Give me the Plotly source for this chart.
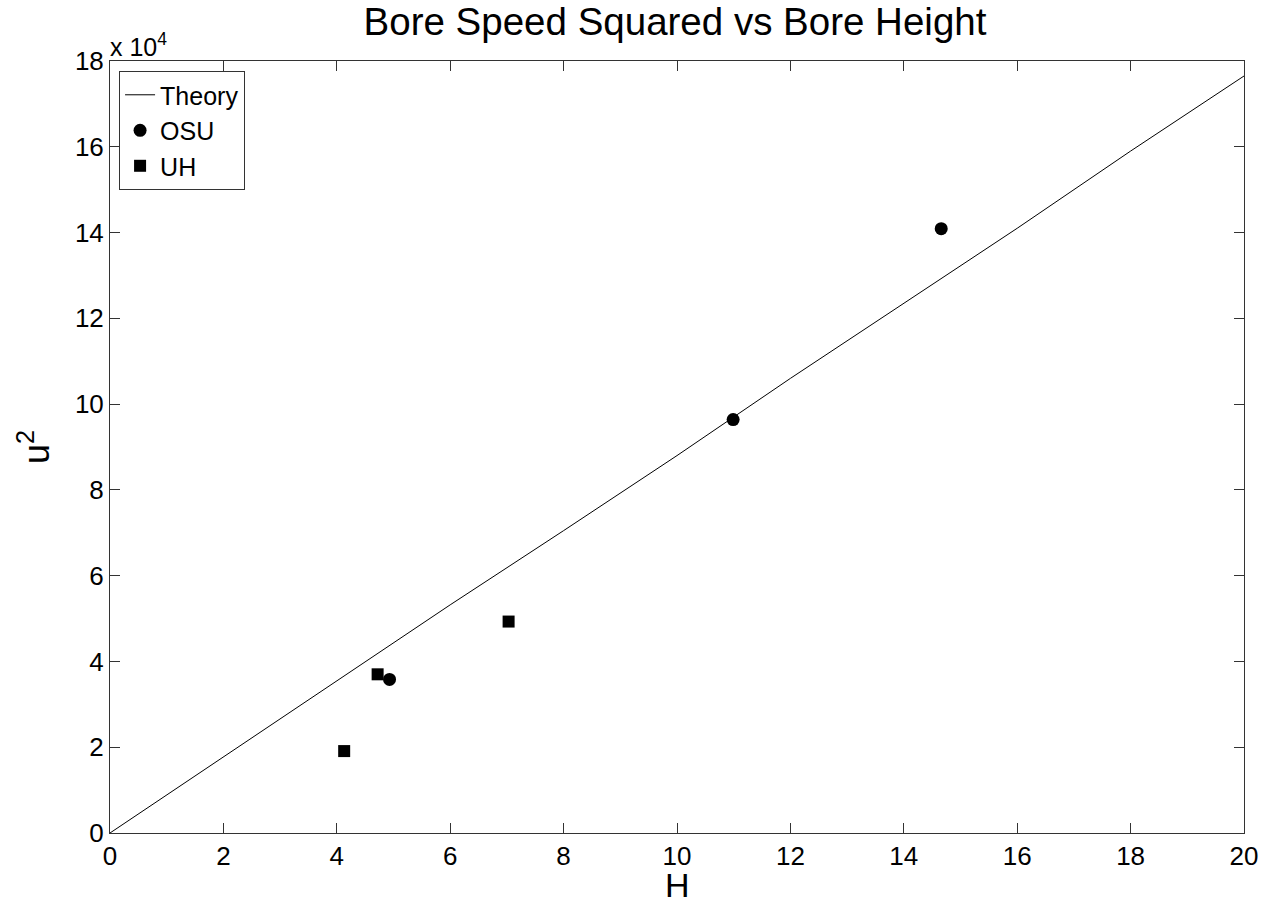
import plotly.graph_objects as go

theory_H = [0, 2, 4, 6, 8, 10, 12, 14, 16, 18, 20]
theory_u2 = [0, 17700, 35500, 53200, 70500, 88000, 106000, 123500, 141000, 159000, 176500]

osu_H = [4.93, 10.99, 14.66]
osu_u2 = [35800, 96400, 140900]

uh_H = [4.13, 4.72, 7.03]
uh_u2 = [19100, 37000, 49300]

y_ticks = [0, 20000, 40000, 60000, 80000, 100000, 120000, 140000, 160000, 180000]
y_ticktext = ["0", "2", "4", "6", "8", "10", "12", "14", "16", "18"]
x_ticks = [0, 2, 4, 6, 8, 10, 12, 14, 16, 18, 20]

FONT = "Liberation Sans, Arial, sans-serif"

fig = go.Figure()
fig.add_trace(go.Scatter(x=theory_H, y=theory_u2, mode="lines", name="Theory",
                         line=dict(color="black", width=1)))
fig.add_trace(go.Scatter(x=osu_H, y=osu_u2, mode="markers", name="OSU",
                         marker=dict(symbol="circle", size=13, color="black")))
fig.add_trace(go.Scatter(x=uh_H, y=uh_u2, mode="markers", name="UH",
                         marker=dict(symbol="square", size=12, color="black")))

axis_common = dict(showgrid=False, zeroline=False, showline=True, linecolor="#333333",
                   linewidth=1, mirror="ticks", ticks="inside", ticklen=10,
                   tickcolor="#333333", automargin=False,
                   tickfont=dict(family=FONT, size=26, color="black"))

fig.update_layout(
    width=1262, height=905,
    margin=dict(l=110, r=18, t=61, b=72),
    paper_bgcolor="white", plot_bgcolor="white",
    font=dict(family=FONT, color="black"),
    title=dict(text="Bore Speed Squared vs Bore Height", x=675 / 1262, xanchor="center",
               y=1 - 22 / 905, yanchor="middle", yref="container",
               font=dict(family=FONT, size=38.5, color="black")),
    xaxis=dict(range=[0, 20], tickvals=x_ticks, **axis_common),
    yaxis=dict(range=[0, 180000], tickvals=y_ticks, ticktext=y_ticktext,
               title=dict(text="u<sup>2</sup>", font=dict(family=FONT, size=36, color="black"), standoff=14),
               **axis_common),
    legend=dict(x=0.008, y=0.987, xanchor="left", yanchor="top",
                bordercolor="#333333", borderwidth=1, bgcolor="white",
                font=dict(family=FONT, size=25, color="black"),
                tracegroupgap=0),
    showlegend=True,
)

# x-axis title placed explicitly
fig.add_annotation(text="H", xref="paper", yref="paper", x=0.5, y=-(885 - 833) / 772,
                   xanchor="center", yanchor="middle", showarrow=False,
                   font=dict(family=FONT, size=34, color="black"))

fig.add_annotation(text="x 10<sup>4</sup>", xref="paper", yref="paper", x=0.0, y=1.0,
                   xanchor="left", yanchor="bottom", showarrow=False,
                   font=dict(family=FONT, size=25, color="black"), xshift=-2, yshift=-2)

fig.write_html("out.html")
